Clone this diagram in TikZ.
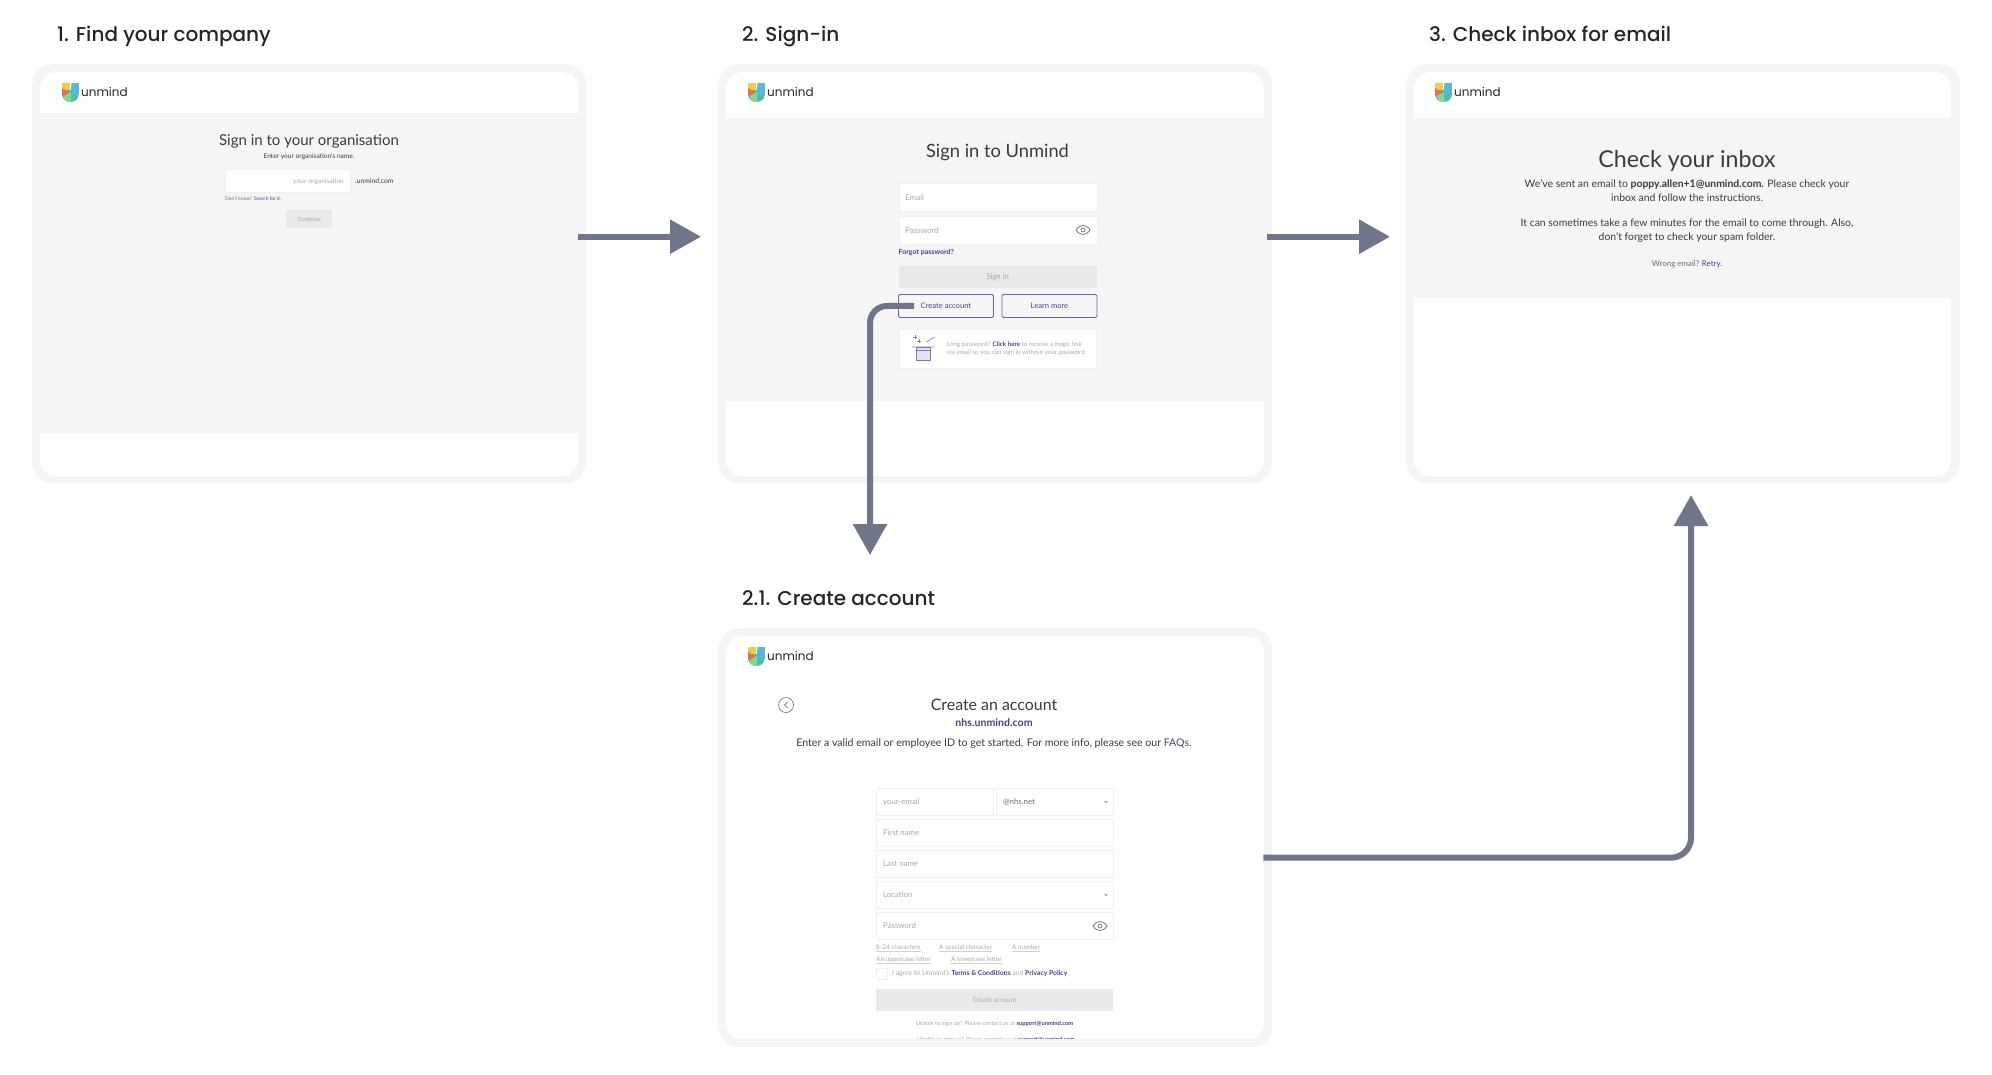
\documentclass[tikz,border=0pt]{standalone}
\usepackage{fontspec}
\setmainfont{Lato}
\newfontfamily\headfont{Poppins Medium}
\newfontfamily\wordfont{Poppins}
\usetikzlibrary{arrows.meta}
\definecolor{framegray}{HTML}{F5F5F6}
\definecolor{arrowgray}{HTML}{70758A}
\definecolor{btngray}{HTML}{E9E9EA}
\definecolor{inkdark}{HTML}{3A3A40}
\definecolor{inkmid}{HTML}{6B6B72}
\definecolor{inklight}{HTML}{A8A8AE}
\definecolor{linkpurple}{HTML}{4A3F8C}
\definecolor{logoyellow}{HTML}{F7C948}
\definecolor{logored}{HTML}{EE6C4D}
\definecolor{logoblue}{HTML}{5BB6D8}
\definecolor{logogreen}{HTML}{8BD48F}
\definecolor{logoteal}{HTML}{4DBFA8}
\newcommand{\fs}[1]{\fontsize{#1}{#1}\selectfont}
\tikzset{
    x=1pt,y=-1pt,
    heading/.style={anchor=base west,inner sep=0,text=black!85,font=\headfont\fs{20}},
    frameout/.style={anchor=north west,inner sep=0,fill=framegray,rounded corners=21pt,minimum width=554pt,minimum height=419pt},
    frameinn/.style={anchor=north west,inner sep=0,fill=white,rounded corners=16pt,minimum width=538pt,minimum height=404pt},
    field/.style={anchor=north west,inner sep=0,fill=white,draw=black!6,line width=.6pt},
    outline/.style={field,draw=linkpurple!80,line width=.9pt,rounded corners=1.5pt,minimum width=95pt,minimum height=23pt,fill=framegray,text=linkpurple,font=\fs{7.6}},
    button/.style={anchor=north west,inner sep=0,fill=btngray},
    txt/.style={anchor=west,inner sep=0,text=inkdark},
    ctr/.style={inner sep=0,text=inkdark},
    flowarrow/.style={draw=arrowgray,line width=6pt,-{Triangle[length=31pt,width=33pt,fill=arrowgray]}},
    %logo at its top left corner
    pics/unmind/.style={code={
        \begin{scope}
            \clip (0,0) -- (7.5,0) -- (8,7) -- (9,7) -- (9.5,0) -- (17,0) -- (17,11) .. controls (17,16) and (13,19) .. (8.5,19) .. controls (4,19) and (0,16) .. (0,11) -- cycle;
            \fill[logoteal] (0,0) rectangle (17,19);
            \fill[logoyellow] (0,0) rectangle (8,7);
            \fill[logored] (0,5) -- (7,9.5) -- (0,13) -- cycle;
            \fill[logoblue] (10,0) rectangle (17,11);
            \fill[logogreen] (2,13) -- (9,9) -- (9,19) -- (2,19) -- cycle;
        \end{scope}
        \node[txt,text=black!85] (-word) at (19,8.5) {\wordfont\fs{12}unmind};
    }}
}
\begin{document}
\begin{tikzpicture}
    \useasboundingbox (0,0) rectangle (1992,1074);
    %headings
    \node[heading] (headfind) at (57,41) {1. Find your company};
    \node[heading] (headsign) at (742,41) {2. Sign-in};
    \node[heading] (headinbox) at (1429,41) {3. Check inbox for email};
    \node[heading] (headcreate) at (742,605) {2.1. Create account};
    %frames
    \node[frameout] (framefind) at (32,64) {};
    \node[frameout] (framesign) at (718,64) {};
    \node[frameout] (frameinbox) at (1406,64) {};
    \node[frameout] (framecreate) at (718,628) {};
    \node[frameinn] (innerfind) at (40,72) {};
    \node[frameinn] (innersign) at (726,72) {};
    \node[frameinn,minimum width=537pt] (innerinbox) at (1414,72) {};
    \node[frameinn,minimum height=403pt] (innercreate) at (726,636) {};
    \fill[framegray] (40,113) rectangle (578,433);
    \fill[framegray] (726,118) rectangle (1264,401);
    \fill[framegray] (1414,118) rectangle (1951,298);
    %logos
    \pic (logofind) at (62,83) {unmind};
    \pic (logosign) at (748,83) {unmind};
    \pic (logoinbox) at (1435,83) {unmind};
    \pic (logocreate) at (748,647) {unmind};

    %screen 1
    \node[ctr,font=\fs{15}] (findtitle) at (309,141) {Sign in to your organisation};
    \node[ctr,font=\fs{6.6}] (findsub) at (309,157) {Enter your organisation's name.};
    \node[field,minimum width=125pt,minimum height=23pt] (findfield) at (225,169) {};
    \node[txt,anchor=east,text=inklight,font=\fs{6.5}] (findhint) at (344,181.5) {your-organisation};
    \node[txt,font=\fs{6.8}] (finddomain) at (355,181) {.unmind.com};
    \node[txt,font=\fs{4.9},text=inkmid] (findknow) at (225,198.5) {Don't know? \textcolor{linkpurple}{Search for it.}};
    \node[button,minimum width=46pt,minimum height=18pt,text=inklight,font=\fs{5.8}] (findgo) at (286,210) {Continue};

    %screen 2
    \node[ctr,font=\fs{18.3}] (signtitle) at (997.5,152) {Sign in to Unmind};
    \node[field,minimum width=198pt,minimum height=28pt] (signmail) at (898.5,183) {};
    \node[field,minimum width=198pt,minimum height=28pt] (signpass) at (898.5,216) {};
    \node[txt,text=inklight,font=\fs{8}] (signmailtxt) at (905,197.5) {Email};
    \node[txt,text=inklight,font=\fs{8}] (signpasstxt) at (905,230.5) {Password};
    \draw[inkmid,line width=.7pt] (1076,230) .. controls (1080,224) and (1086,224) .. (1090,230) .. controls (1086,236) and (1080,236) .. cycle;
    \draw[inkmid,line width=.7pt] (1083,230) circle (2);
    \node[txt,text=linkpurple,font=\bfseries\fs{7}] (signforgot) at (898.5,252.5) {Forgot password?};
    \node[button,minimum width=198pt,minimum height=22pt,text=inklight,font=\fs{7.8}] (signbtn) at (898.5,266) {Sign in};
    \node[outline] (createbtn) at (898,294) {Create account};
    \node[outline] (learnbtn) at (1001.5,294) {Learn more};
    \node[field,minimum width=197pt,minimum height=39pt] (magicbox) at (898.5,329) {};
    %magic hat
    \draw[linkpurple!70,line width=.6pt] (912,347) -- (934,347) (926,342) -- (935,337);
    \draw[linkpurple!70,fill=linkpurple!15,line width=.6pt] (916,347) rectangle (930,360);
    \draw[linkpurple!70,line width=.6pt] (916,350) -- (930,350) (913,337) -- (917,337) (915,335) -- (915,339) (917,341) -- (921,341) (919,339) -- (919,343);
    \node[txt,text=inklight,font=\fs{6.2}] (magicone) at (947,344.5) {Long password? \textcolor{linkpurple}{\bfseries Click here} to receive a magic link};
    \node[txt,text=inklight,font=\fs{6.2}] (magictwo) at (947,352.5) {via email so you can sign in without your password.};

    %screen 3
    \node[ctr,font=\fs{23.2}] (inboxtitle) at (1687,160.5) {Check your inbox};
    \node[ctr,font=\fs{10.4}] (inboxa) at (1687,184.5) {We've sent an email to \textbf{poppy.allen+1@unmind.com.} Please check your};
    \node[ctr,font=\fs{10.4}] (inboxb) at (1687,197.5) {inbox and follow the instructions.};
    \node[ctr,font=\fs{10.4}] (inboxc) at (1687,223.5) {It can sometimes take a few minutes for the email to come through. Also,};
    \node[ctr,font=\fs{10.4}] (inboxd) at (1687,237.5) {don't forget to check your spam folder.};
    \node[ctr,text=inkmid,font=\fs{7.9}] (inboxe) at (1687,264.5) {Wrong email? \textcolor{linkpurple}{Retry.}};

    %screen 2.1
    \draw[inkmid,line width=.6pt] (786,705) circle (7.5);
    \draw[inkmid,line width=.6pt] (788,702) -- (784.5,705) -- (788,708);
    \node[ctr,font=\fs{15.9}] (createtitle) at (994,705) {Create an account};
    \node[ctr,text=linkpurple,font=\bfseries\fs{10.6}] (createorg) at (994,722.5) {nhs.unmind.com};
    \node[ctr,font=\fs{10.6}] (createinfo) at (994,743.5) {Enter a valid email or employee ID to get started. For more info, please see our \textcolor{linkpurple}{FAQs.}};
    \node[field,minimum width=117pt,minimum height=27pt] (createmail) at (876,788) {};
    \node[field,minimum width=117pt,minimum height=27pt] (createdom) at (996,788) {};
    \node[txt,text=inklight,font=\fs{7.8}] (createmailtxt) at (883,802) {your-email};
    \node[txt,text=inkmid,font=\fs{7.8}] (createdomtxt) at (1003,802) {@nhs.net};
    \foreach \n/\y/\t in {first/819/First name,last/850/Last name,loc/881/Location,pass/912/Password}
        {%
            \node[field,minimum width=237pt,minimum height=27pt] (field\n) at (876,\y) {};
            \node[txt,text=inklight,font=\fs{7.8}] (field\n txt) at (883,\y+14) {\t};
        }
    \foreach \y in {802,895}
        {%
            \draw[inkmid,line width=.5pt] (1104.5,\y-1) -- (1106,\y+.5) -- (1107.5,\y-1);
        }
    \draw[inkmid,line width=.7pt] (1093,926) .. controls (1097,920) and (1103,920) .. (1107,926) .. controls (1103,932) and (1097,932) .. cycle;
    \draw[inkmid,line width=.7pt] (1100,926) circle (2);
    %password hints
    \foreach \n/\x/\y/\t in {len/876/949/8-24 characters,spec/939/949/A special character,num/1012/949/A number,upp/876/961/An uppercase letter,low/951/961/A lowercase letter}
        {%
            \node[txt,anchor=base west,text=inklight,font=\fs{6.4}] (hint\n) at (\x,\y) {\t};
            \coordinate (hintl\n) at (hint\n.base west);
            \coordinate (hintr\n) at (hint\n.base east);
            \draw[black!18,line width=.5pt] ([yshift=-2.5pt]hintl\n) -- ([yshift=-2.5pt]hintr\n);
        }
    \node[field,minimum width=11pt,minimum height=11pt] (agreebox) at (876,968) {};
    \node[txt,text=inklight,font=\fs{6.8}] (agreetxt) at (892,974) {I agree to Unmind's \textcolor{linkpurple}{\bfseries Terms \& Conditions} and \textcolor{linkpurple}{\bfseries Privacy Policy}.};
    \node[button,minimum width=237pt,minimum height=22pt,text=inklight,font=\fs{6.6}] (createbtnoff) at (876,989) {Create account};
    \node[ctr,text=inklight,font=\fs{5.8}] (unable) at (994.5,1023.5) {Unable to sign up? Please contact us at \textcolor{linkpurple}{\bfseries support@unmind.com}};
    \node[ctr,text=inklight,font=\fs{5.8}] (unablecut) at (996,1040) {Unable to sign up? Please contact us at \textcolor{linkpurple}{\bfseries support@unmind.com}};
    \fill[framegray] (745,1039) rectangle (1245,1047);

    %draw arrows
    \coordinate (createin) at (870,555);
    \coordinate (inboxin) at (1691,495);
    \draw[flowarrow,shorten <=-8pt,shorten >=17pt] ([yshift=37pt]framefind.east) -- ([yshift=37pt]framesign.west);
    \draw[flowarrow,shorten <=-5pt,shorten >=16pt] ([yshift=37pt]framesign.east) -- ([yshift=37pt]frameinbox.west);
    \draw[flowarrow,rounded corners=17pt] ([xshift=16pt]createbtn.west) -| (createin);
    \draw[flowarrow,rounded corners=20pt,shorten <=-9pt] ([yshift=-20pt]framecreate.east) -| (inboxin);
\end{tikzpicture}
\end{document}
